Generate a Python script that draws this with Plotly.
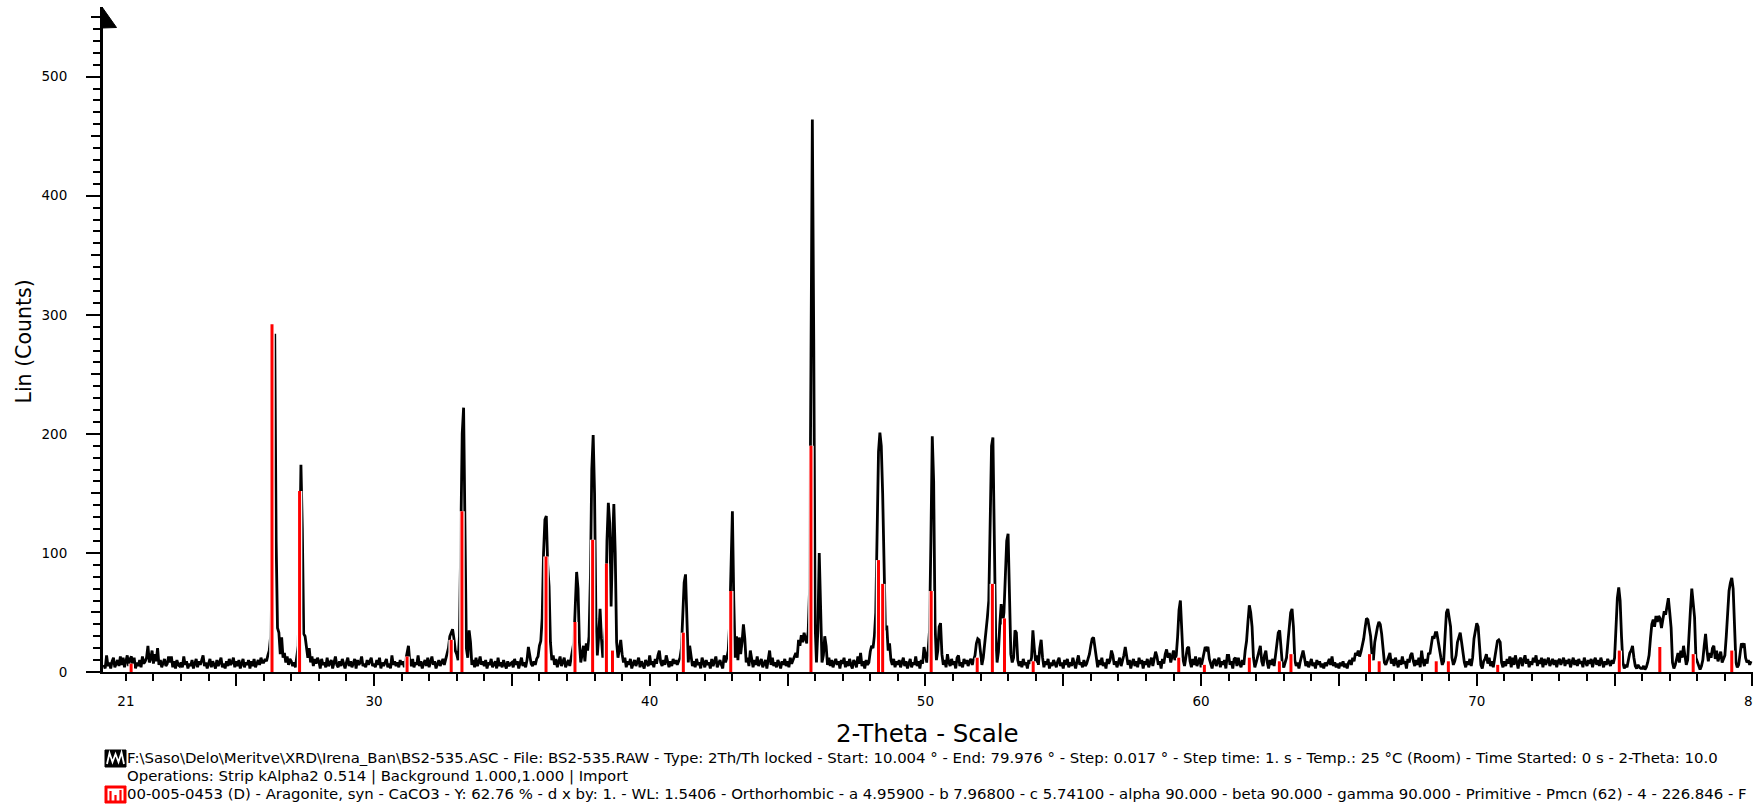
import plotly.graph_objects as go

# ---------------- figure geometry ----------------
W_FIG, H_FIG = 1753, 808
L, R, T, B = 103, 0, 7, 136
PW = W_FIG - L - R
PH = H_FIG - T - B

FONT = "DejaVu Sans"

# ---------------- data ----------------
X_RANGE = [20.17, 80.02]
Y_RANGE = [0, 558.5]
X_LABEL_VALS = [21, 30, 40, 50, 60, 70]
X_LABEL_TEXT = ["21", "30", "40", "50", "60", "70"]
X_EDGE_LABEL = 80     # last label, sits on the right border (cut by the page edge)

FIRST_THETA = 20.20   # first plotted 2-theta value
STEP = 0.05           # 2-theta spacing of the values below

# measured counts, one row per degree (row 20 starts at 20.20)
COUNTS = {
    20: [6, 3, 14, 5, 8, 3, 9, 12, 4, 7, 10, 5, 13, 6, 12, 4],
    21: [9, 14, 5, 11, 13, 6, 12, 3, 8, 5, 10, 4, 13, 7, 9, 12, 22, 8, 11, 18],
    22: [7, 15, 9, 20, 6, 10, 4, 8, 11, 5, 7, 13, 8, 13, 4, 9, 3, 10, 6, 5],
    23: [8, 4, 13, 6, 9, 3, 7, 5, 10, 3, 8, 11, 4, 9, 6, 10, 14, 5, 8, 3],
    24: [7, 11, 4, 9, 6, 3, 10, 5, 8, 12, 4, 7, 3, 9, 5, 11, 6, 8, 12, 4],
    25: [9, 5, 10, 3, 7, 11, 4, 8, 6, 10, 3, 9, 5, 11, 4, 7, 10, 6, 12, 8],
    26: [8, 11, 9, 14, 18, 30, 70, 210, 284, 110, 37, 33, 15, 29, 12, 16, 8, 13, 6, 11],
    27: [9, 5, 8, 4, 12, 22, 90, 174, 120, 32, 30, 22, 12, 20, 8, 13, 5, 11, 7, 12],
    28: [9, 3, 11, 6, 8, 4, 12, 5, 7, 10, 3, 8, 13, 6, 4, 9, 5, 11, 7, 3],
    29: [8, 12, 5, 9, 4, 7, 11, 3, 10, 6, 8, 13, 5, 7, 4, 10, 6, 9, 12, 5],
    30: [7, 4, 10, 6, 12, 3, 8, 5, 9, 11, 4, 7, 3, 14, 6, 9, 5, 8, 4, 10],
    31: [6, 9, 4, 10, 16, 22, 8, 5, 11, 4, 8, 6, 14, 5, 9, 3, 7, 10, 5, 12],
    32: [4, 8, 13, 6, 9, 3, 7, 10, 5, 8, 11, 6, 10, 14, 20, 30, 33, 36, 28, 18],
    33: [15, 10, 30, 120, 200, 222, 120, 20, 12, 35, 25, 6, 10, 4, 12, 5, 8, 13, 6, 9],
    34: [5, 10, 3, 8, 6, 11, 4, 7, 9, 3, 12, 5, 8, 4, 10, 6, 3, 9, 5, 7],
    35: [8, 4, 11, 6, 9, 3, 7, 12, 5, 8, 4, 10, 21, 14, 7, 5, 9, 6, 11, 13],
    36: [22, 26, 45, 100, 128, 131, 90, 72, 25, 10, 14, 6, 11, 4, 9, 13, 5, 8, 12, 4],
    37: [7, 10, 5, 12, 18, 25, 55, 84, 70, 25, 8, 14, 22, 9, 24, 18, 30, 80, 170, 199],
    38: [150, 45, 14, 30, 53, 28, 12, 22, 40, 110, 142, 125, 55, 105, 141, 100, 25, 12, 20, 27],
    39: [15, 8, 12, 4, 9, 6, 11, 3, 7, 10, 5, 8, 12, 4, 9, 6, 3, 10, 7, 5],
    40: [14, 6, 9, 4, 11, 7, 14, 18, 8, 5, 10, 6, 14, 8, 4, 9, 5, 11, 7, 10],
    41: [6, 9, 12, 20, 45, 75, 82, 35, 8, 22, 14, 5, 9, 4, 11, 6, 8, 3, 12, 7],
    42: [4, 10, 6, 8, 3, 11, 5, 9, 13, 4, 7, 10, 6, 3, 14, 8, 12, 18, 40, 100],
    43: [135, 60, 12, 30, 10, 29, 15, 25, 40, 28, 8, 12, 5, 18, 9, 4, 10, 6, 13, 5],
    44: [8, 11, 4, 7, 10, 3, 9, 18, 6, 12, 5, 8, 4, 10, 7, 3, 9, 6, 11, 5],
    45: [9, 4, 12, 7, 10, 14, 16, 12, 27, 22, 31, 25, 33, 28, 24, 34, 70, 260, 464, 280],
    46: [40, 8, 35, 100, 45, 8, 14, 30, 22, 6, 12, 5, 10, 4, 8, 11, 6, 9, 3, 10],
    47: [7, 12, 4, 9, 5, 11, 6, 3, 10, 8, 4, 13, 7, 16, 5, 9, 3, 10, 6, 8],
    48: [17, 22, 20, 30, 50, 130, 185, 201, 190, 150, 80, 35, 39, 18, 24, 10, 6, 11, 4, 9],
    49: [6, 10, 4, 8, 12, 5, 9, 3, 7, 11, 4, 8, 6, 13, 5, 9, 3, 10, 7, 21],
    50: [15, 8, 18, 35, 110, 198, 160, 40, 10, 18, 38, 41, 15, 6, 10, 4, 15, 8, 5, 11],
    51: [6, 9, 3, 12, 14, 5, 8, 4, 11, 7, 10, 5, 9, 11, 6, 10, 14, 24, 28, 27],
    52: [18, 6, 12, 22, 35, 46, 60, 140, 190, 197, 120, 30, 8, 17, 40, 57, 40, 50, 80, 110],
    53: [116, 70, 15, 8, 12, 35, 33, 10, 5, 9, 4, 11, 6, 8, 3, 10, 7, 12, 35, 20],
    54: [8, 14, 6, 20, 27, 12, 4, 9, 6, 11, 3, 8, 5, 10, 7, 4, 9, 12, 5, 8],
    55: [3, 10, 6, 11, 4, 8, 5, 12, 7, 3, 9, 14, 6, 8, 4, 10, 5, 7, 11, 15],
    56: [22, 28, 29, 20, 9, 4, 10, 6, 12, 5, 8, 3, 11, 7, 10, 18, 14, 6, 9, 4],
    57: [8, 12, 5, 9, 14, 21, 15, 6, 10, 3, 8, 11, 5, 9, 4, 12, 7, 10, 3, 9],
    58: [6, 11, 4, 8, 12, 5, 10, 17, 13, 6, 9, 3, 11, 7, 15, 19, 12, 16, 8, 14],
    59: [18, 10, 14, 30, 52, 60, 38, 10, 5, 12, 20, 21, 9, 4, 11, 6, 13, 5, 9, 12],
    60: [4, 10, 16, 21, 19, 21, 11, 7, 3, 9, 11, 5, 8, 12, 4, 9, 6, 10, 3, 14],
    61: [14, 6, 9, 3, 11, 12, 5, 12, 7, 4, 10, 6, 18, 26, 42, 56, 50, 38, 12, 4],
    62: [8, 12, 18, 22, 9, 5, 14, 18, 8, 3, 10, 6, 11, 5, 14, 26, 33, 35, 22, 6],
    63: [4, 9, 12, 25, 42, 50, 53, 38, 10, 5, 8, 3, 9, 15, 18, 12, 5, 9, 4, 7],
    64: [11, 5, 8, 3, 10, 6, 9, 4, 7, 3, 8, 5, 8, 11, 6, 13, 5, 8, 4, 7],
    65: [3, 8, 5, 9, 4, 7, 3, 8, 10, 6, 12, 9, 16, 14, 18, 13, 17, 22, 28, 37],
    66: [45, 44, 36, 30, 14, 10, 25, 33, 38, 42, 40, 32, 20, 8, 6, 10, 13, 16, 7, 11],
    67: [5, 12, 8, 4, 10, 6, 13, 7, 9, 3, 11, 8, 14, 16, 9, 5, 10, 6, 12, 4],
    68: [18, 9, 5, 11, 7, 16, 15, 22, 30, 28, 33, 33, 25, 20, 12, 6, 9, 30, 50, 53],
    69: [45, 38, 12, 6, 9, 14, 25, 30, 33, 25, 14, 8, 4, 9, 6, 11, 5, 12, 28, 35],
    70: [41, 38, 24, 6, 3, 9, 11, 15, 7, 12, 5, 9, 4, 12, 17, 26, 27, 25, 8, 4],
    71: [9, 5, 11, 7, 13, 4, 12, 6, 14, 8, 3, 10, 12, 5, 9, 14, 7, 11, 4, 9],
    72: [6, 12, 8, 14, 5, 10, 7, 12, 4, 11, 6, 9, 12, 5, 8, 11, 6, 10, 4, 9],
    73: [11, 6, 9, 12, 5, 10, 7, 11, 4, 9, 12, 6, 10, 5, 11, 7, 9, 4, 12, 8],
    74: [5, 10, 7, 11, 4, 9, 12, 6, 10, 5, 12, 8, 4, 9, 6, 11, 8, 5, 10, 7],
    75: [12, 35, 62, 71, 60, 30, 8, 3, 6, 4, 10, 16, 18, 22, 12, 5, 3, 6, 4, 3],
    76: [3, 5, 2, 4, 8, 14, 28, 40, 44, 38, 47, 42, 47, 45, 37, 45, 51, 48, 55, 62],
    77: [50, 37, 8, 3, 6, 10, 16, 8, 18, 12, 22, 14, 6, 10, 35, 52, 70, 60, 46, 12],
    78: [8, 4, 2, 5, 10, 22, 32, 18, 9, 16, 12, 20, 22, 11, 18, 9, 14, 17, 8, 12],
    79: [14, 30, 52, 68, 75, 79, 70, 35, 8, 4, 6, 15, 24, 22, 24, 12, 8, 10, 6, 9],
}

# Aragonite reference pattern (00-005-0453), scaled sticks
STICK_THETA = [21.19, 26.30, 27.30, 31.20, 32.80, 33.19, 36.24, 37.29, 37.93, 38.43,
               38.65, 41.22, 42.94, 45.85, 48.30, 48.45, 50.21, 51.88, 52.43, 52.87,
               53.91, 59.19, 60.12, 61.75, 62.84, 63.26, 66.11, 66.46, 68.53, 68.97,
               70.76, 75.17, 76.64, 77.85, 79.25]
STICK_HEIGHT = [7, 292, 152, 13, 27, 135, 97, 42, 111, 91,
                18, 33, 68, 190, 94, 74, 68, 12, 74, 45,
                9, 12, 6, 12, 9, 15, 15, 9, 9, 9,
                6, 18, 21, 15, 18]

LEGEND_1 = (r"F:\Saso\Delo\Meritve\XRD\Irena_Ban\BS2-535.ASC - File: BS2-535.RAW - "
            "Type: 2Th/Th locked - Start: 10.004 ° - End: 79.976 ° - Step: 0.017 ° - "
            "Step time: 1. s - Temp.: 25 °C (Room) - Time Started: 0 s - 2-Theta: 10.0")
LEGEND_2 = "Operations: Strip kAlpha2 0.514 | Background 1.000,1.000 | Import"
LEGEND_3 = ("00-005-0453 (D) - Aragonite, syn - CaCO3 - Y: 62.76 % - d x by: 1. - WL: 1.5406 - "
            "Orthorhombic - a 4.95900 - b 7.96800 - c 5.74100 - alpha 90.000 - beta 90.000 - "
            "gamma 90.000 - Primitive - Pmcn (62) - 4 - 226.846 - F")

# ---------------- build series ----------------
theta, counts = [], []
for deg, row in COUNTS.items():
    start = FIRST_THETA if deg == 20 else float(deg)
    for k, c in enumerate(row):
        theta.append(round(start + STEP * k, 3))
        counts.append(c)

sx, sy = [], []
for t, h in zip(STICK_THETA, STICK_HEIGHT):
    sx += [t, t, None]
    sy += [0, h, None]


def px(x):
    return (x - L) / PW


def py(y):
    return (H_FIG - B - y) / PH


fig = go.Figure()
fig.add_trace(go.Scatter(x=theta, y=counts, mode="lines",
                         line=dict(color="black", width=2.8), hoverinfo="skip",
                         showlegend=False))
fig.add_trace(go.Scatter(x=sx, y=sy, mode="lines",
                         line=dict(color="white", width=5.5), hoverinfo="skip",
                         showlegend=False))
fig.add_trace(go.Scatter(x=sx, y=sy, mode="lines",
                         line=dict(color="#ff0000", width=3), hoverinfo="skip",
                         showlegend=False))
# decoration axes (tick marks)
fig.add_trace(go.Scatter(x=[None], y=[None], xaxis="x2", yaxis="y2",
                         showlegend=False, hoverinfo="skip"))

tick_font = dict(family=FONT, size=13.5, color="black")

fig.update_layout(
    width=W_FIG, height=H_FIG,
    margin=dict(l=L, r=R, t=T, b=B, pad=0),
    paper_bgcolor="white", plot_bgcolor="white",
    showlegend=False,
    xaxis=dict(range=X_RANGE, tickmode="array", tickvals=X_LABEL_VALS,
               ticktext=X_LABEL_TEXT, ticks="", showline=True, linecolor="black",
               linewidth=2, showgrid=False, zeroline=False, tickfont=tick_font,
               ticklabelstandoff=16),
    xaxis2=dict(range=X_RANGE, overlaying="x", anchor="y", tickmode="linear",
                tick0=0, dtick=5, ticks="outside", ticklen=13, tickwidth=1.5,
                tickcolor="black",
                minor=dict(dtick=1, tick0=0, ticks="outside", ticklen=8,
                           tickwidth=1.5, tickcolor="black"),
                showticklabels=False, showline=False, showgrid=False, zeroline=False),
    yaxis=dict(range=Y_RANGE, tickmode="linear", tick0=0, dtick=100,
               ticks="outside", ticklen=14, tickwidth=1.5, tickcolor="black",
               minor=dict(dtick=10, tick0=0, ticks="outside", ticklen=7,
                          tickwidth=1.5, tickcolor="black"),
               showline=True, linecolor="black", linewidth=3, showgrid=False,
               zeroline=False, tickfont=tick_font, ticklabelstandoff=16),
    yaxis2=dict(range=Y_RANGE, overlaying="y", anchor="x", side="left",
                tickmode="linear", tick0=0, dtick=50, ticks="outside", ticklen=11,
                tickwidth=1.5, tickcolor="black", showticklabels=False,
                showline=False, showgrid=False, zeroline=False),
)

# last x label on the border of the page (cut like in the original)
fig.add_annotation(text=str(X_EDGE_LABEL), xref="x", yref="paper", x=X_EDGE_LABEL,
                   y=py(701), xanchor="center", yanchor="middle", showarrow=False,
                   font=tick_font)

# arrow head on top of y axis
fig.add_shape(type="path", xref="paper", yref="paper",
              path=f"M {px(102)},{py(7)} L {px(116.5)},{py(27.5)} L {px(102)},{py(28)} Z",
              fillcolor="black", line=dict(color="black", width=1))

# legend icon 1 (measured scan)
fig.add_shape(type="rect", xref="paper", yref="paper",
              x0=px(105), x1=px(126), y0=py(767), y1=py(750),
              fillcolor="black", line=dict(color="black", width=1))
fig.add_shape(type="path", xref="paper", yref="paper",
              path=(f"M {px(107)},{py(764)} L {px(109.5)},{py(753)} L {px(112.5)},{py(762)} "
                    f"L {px(115.5)},{py(754)} L {px(118.5)},{py(762)} L {px(121.5)},{py(752.5)} "
                    f"L {px(124)},{py(764)}"),
              line=dict(color="white", width=1.8))
# legend icon 2 (reference pattern)
fig.add_shape(type="rect", xref="paper", yref="paper",
              x0=px(105), x1=px(126), y0=py(803), y1=py(786),
              fillcolor="#ff0000", line=dict(color="#ff0000", width=1))
fig.add_shape(type="rect", xref="paper", yref="paper",
              x0=px(107.5), x1=px(123.5), y0=py(800.5), y1=py(788.5),
              fillcolor="white", line=dict(width=0))
for bx, top in [(110.5, 791), (115.5, 795), (120.5, 790)]:
    fig.add_shape(type="line", xref="paper", yref="paper",
                  x0=px(bx), x1=px(bx), y0=py(801), y1=py(top),
                  line=dict(color="#ff0000", width=2.2))

# titles
fig.add_annotation(text="2-Theta - Scale", xref="paper", yref="paper",
                   x=px(927.5), y=py(733), xanchor="center", yanchor="middle",
                   showarrow=False, font=dict(family=FONT, size=24.5, color="black"))
fig.add_annotation(text="Lin (Counts)", xref="paper", yref="paper",
                   x=px(23.5), y=py(342), xanchor="center", yanchor="middle",
                   textangle=-90, showarrow=False,
                   font=dict(family=FONT, size=20.5, color="black"))

# legend texts
for txt, yc in [(LEGEND_1, 758), (LEGEND_2, 776), (LEGEND_3, 794)]:
    fig.add_annotation(text=txt, xref="paper", yref="paper", x=px(124.5), y=py(yc),
                       xanchor="left", yanchor="middle", showarrow=False,
                       font=dict(family=FONT, size=14.9, color="black"))

# remove the browser's default page margin so the figure starts at (0, 0)
fig.write_html("out.html", config={"displayModeBar": False},
               post_script="document.body.style.margin='0';document.body.style.overflow='hidden';")
